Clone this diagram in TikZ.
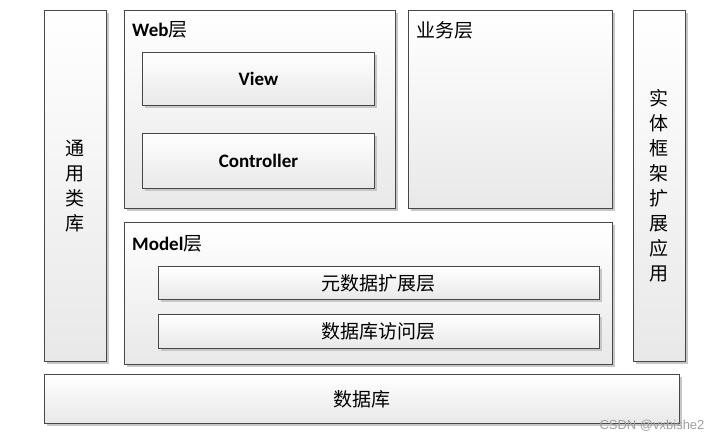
\documentclass[tikz,border=0pt]{standalone}
\usepackage{fontspec}
\setmainfont{Carlito}
\newfontfamily\cjk{Noto Sans CJK SC}
\newfontfamily\wmfont{Liberation Sans}
\usetikzlibrary{shadows}

\tikzset{
  layer/.style={draw=black!72, line width=0.8pt, top color=white, bottom color=black!9,
    drop shadow={shadow xshift=3pt, shadow yshift=-3pt, fill=black!22, opacity=1},
    inner sep=0pt, anchor=north west},
  entxt/.style={font=\fontsize{19pt}{23pt}\selectfont\bfseries, inner sep=0pt},
  zhtxt/.style={font=\cjk\fontsize{19pt}{25pt}\selectfont, inner sep=0pt, align=center},
  title/.style={font=\fontsize{19pt}{23pt}\selectfont, inner sep=0pt, anchor=west},
}

\begin{document}
\begin{tikzpicture}[x=1pt,y=-1pt]
  \useasboundingbox (0,0) rectangle (720,441);
  % side columns
  \node[layer, minimum width=62pt, minimum height=351pt] (tongyong) at (44,10) {};
  \node[layer, minimum width=52pt, minimum height=351pt] (shiti) at (633,10) {};
  \node[zhtxt] (tongyong_t) at (tongyong.center) {通\\用\\类\\库};
  \node[zhtxt] (shiti_t) at (shiti.center) {实\\体\\框\\架\\扩\\展\\应\\用};
  % web layer
  \node[layer, minimum width=271pt, minimum height=198pt] (web) at (124,10) {};
  \node[title] (web_t) at (132,30) {\bfseries Web{\cjk\mdseries 层}};
  \node[layer, minimum width=232pt, minimum height=53pt] (view) at (142,52) {};
  \node[entxt] (view_t) at (view.center) {View};
  \node[layer, minimum width=232pt, minimum height=55pt] (ctrl) at (142,133) {};
  \node[entxt] (ctrl_t) at (ctrl.center) {Controller};
  % business layer
  \node[layer, minimum width=204pt, minimum height=198pt] (biz) at (408,10) {};
  \node[title] (biz_t) at (416,30) {\cjk 业务层};
  % model layer
  \node[layer, minimum width=488pt, minimum height=142pt] (model) at (124,222) {};
  \node[title] (model_t) at (132,244) {\bfseries Model{\cjk\mdseries 层}};
  \node[layer, minimum width=441pt, minimum height=33pt] (meta) at (158,266) {};
  \node[zhtxt] (meta_t) at (meta.center) {元数据扩展层};
  \node[layer, minimum width=441pt, minimum height=34pt] (dal) at (158,314) {};
  \node[zhtxt] (dal_t) at (dal.center) {数据库访问层};
  % database
  \node[layer, minimum width=635pt, minimum height=49pt] (db) at (44,374) {};
  \node[zhtxt] (db_t) at (db.center) {数据库};
  % watermark
  \node[font=\wmfont\fontsize{13pt}{15pt}\selectfont, text=black!38, inner sep=0pt] (wm) at (652,426) {CSDN @vxbishe2};
\end{tikzpicture}
\end{document}
